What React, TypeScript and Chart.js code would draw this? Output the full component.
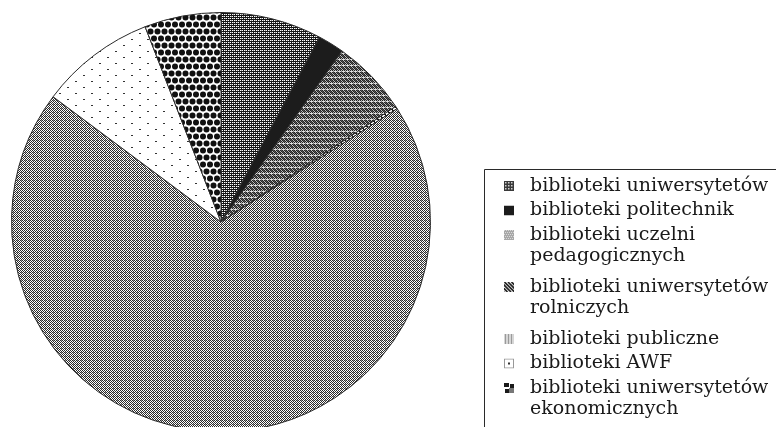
import React, { useEffect, useRef } from "react";
import { Chart, registerables } from "chart.js";

Chart.register(...registerables);

const categories = [
  "biblioteki uniwersytetów",
  "biblioteki politechnik",
  "biblioteki uczelni pedagogicznych",
  "biblioteki uniwersytetów rolniczych",
  "biblioteki publiczne",
  "biblioteki AWF",
  "biblioteki uniwersytetów ekonomicznych",
];

const shares = [7.8, 2.0, 5.9, 0.2, 69.3, 8.9, 5.9];

const legendLines = [
  ["biblioteki uniwersytetów"],
  ["biblioteki politechnik"],
  ["biblioteki uczelni", "pedagogicznych"],
  ["biblioteki uniwersytetów", "rolniczych"],
  ["biblioteki publiczne"],
  ["biblioteki AWF"],
  ["biblioteki uniwersytetów", "ekonomicznych"],
];

type Draw = (c: CanvasRenderingContext2D, w: number, h: number) => void;

function makePattern(ctx: CanvasRenderingContext2D, w: number, h: number, draw: Draw): CanvasPattern | string {
  const off = document.createElement("canvas");
  off.width = w;
  off.height = h;
  const c = off.getContext("2d");
  if (!c) return "#888";
  draw(c, w, h);
  return ctx.createPattern(off, "repeat") || "#888";
}

function px(c: CanvasRenderingContext2D, color: string, pts: number[][]) {
  c.fillStyle = color;
  pts.forEach(([x, y]) => c.fillRect(x, y, 1, 1));
}

function buildSlicePatterns(ctx: CanvasRenderingContext2D) {
  const p1 = makePattern(ctx, 4, 4, (c) => {
    c.fillStyle = "#fff";
    c.fillRect(0, 0, 4, 4);
    c.fillStyle = "#151515";
    c.fillRect(0, 1, 4, 1);
    c.fillRect(0, 3, 4, 1);
    px(c, "#151515", [[1, 0], [3, 2]]);
    px(c, "#888", [[3, 0], [1, 2]]);
  });
  const p2 = "#1c1c1c";
  const p3 = makePattern(ctx, 4, 6, (c) => {
    c.fillStyle = "#bdbdbd";
    c.fillRect(0, 0, 4, 6);
    for (let y = 0; y < 5; y++) {
      px(c, "#222", [[y % 2, y], [(y % 2) + 2, y]]);
    }
    px(c, "#555", [[1, 0], [3, 2], [0, 3], [2, 1]]);
    c.fillStyle = "#e0e0e0";
    c.fillRect(0, 5, 4, 1);
    px(c, "#777", [[1, 5]]);
  });
  const p4 = makePattern(ctx, 6, 6, (c) => {
    c.fillStyle = "#fff";
    c.fillRect(0, 0, 6, 6);
    for (let i = 0; i < 6; i++) {
      px(c, "#111", [[i, i], [(i + 1) % 6, i]]);
    }
  });
  const p5 = makePattern(ctx, 4, 4, (c) => {
    c.fillStyle = "#fff";
    c.fillRect(0, 0, 4, 4);
    px(c, "#2a2a2a", [[0, 0], [2, 0], [1, 1], [3, 1], [0, 2], [2, 2], [1, 3], [3, 3]]);
    px(c, "#9a9a9a", [[1, 0]]);
  });
  const p6 = makePattern(ctx, 16, 12, (c) => {
    c.fillStyle = "#fff";
    c.fillRect(0, 0, 16, 12);
    c.fillStyle = "#333";
    c.fillRect(3, 3, 2, 1);
    c.fillRect(11, 9, 2, 1);
  });
  const p7 = makePattern(ctx, 14, 14, (c) => {
    c.fillStyle = "#fff";
    c.fillRect(0, 0, 14, 14);
    c.fillStyle = "#111";
    const centers = [[3.5, 3.5], [10.5, 3.5], [0, 10.5], [7, 10.5], [14, 10.5]];
    centers.forEach(([x, y]) => {
      c.beginPath();
      c.arc(x, y, 3, 0, Math.PI * 2);
      c.fill();
    });
  });
  return [p1, p2, p3, p4, p5, p6, p7];
}

function drawSwatch(c: CanvasRenderingContext2D, i: number, x: number, y: number, s: number) {
  c.save();
  c.beginPath();
  c.rect(x, y, s, s);
  c.clip();
  if (i === 0) {
    c.fillStyle = "#3a3a3a";
    c.fillRect(x, y, s, s);
    c.fillStyle = "#d0d0d0";
    for (let yy = 1; yy < s; yy += 3) for (let xx = 1; xx < s; xx += 3) c.fillRect(x + xx, y + yy, 1.5, 1.5);
  } else if (i === 1) {
    c.fillStyle = "#1c1c1c";
    c.fillRect(x, y, s, s);
  } else if (i === 2) {
    c.fillStyle = "#a8a8a8";
    c.fillRect(x, y, s, s);
    c.fillStyle = "#d8d8d8";
    for (let yy = 0; yy < s; yy += 2) for (let xx = (yy / 2) % 2; xx < s; xx += 2) c.fillRect(x + xx, y + yy, 1, 1);
  } else if (i === 3) {
    c.fillStyle = "#eee";
    c.fillRect(x, y, s, s);
    c.strokeStyle = "#222";
    c.lineWidth = 1.6;
    for (let k = -s; k < 2 * s; k += 3.5) {
      c.beginPath();
      c.moveTo(x + k, y);
      c.lineTo(x + k + s, y + s);
      c.stroke();
    }
  } else if (i === 4) {
    c.fillStyle = "#d6d6d6";
    c.fillRect(x, y, s, s);
    c.fillStyle = "#9a9a9a";
    for (let xx = 1; xx < s; xx += 3) c.fillRect(x + xx, y, 1, s);
  } else if (i === 5) {
    c.fillStyle = "#fff";
    c.fillRect(x, y, s, s);
    c.strokeStyle = "#999";
    c.lineWidth = 1;
    c.strokeRect(x + 0.5, y + 0.5, s - 1, s - 1);
    c.fillStyle = "#333";
    c.fillRect(x + s / 2 - 1, y + s / 2 - 1, 2, 2);
  } else {
    c.fillStyle = "#fff";
    c.fillRect(x, y, s, s);
    c.fillStyle = "#1a1a1a";
    c.fillRect(x, y, s / 2, s / 2 - 1);
    c.fillRect(x + s / 2 + 1, y + 1, s / 2 - 1, s / 2);
    c.fillRect(x + 1, y + s / 2 + 1, s / 2 - 1, s / 2 - 1);
    c.fillStyle = "#777";
    c.fillRect(x + s / 2, y + s / 2, s / 2, s / 2);
  }
  c.restore();
}

const legendPlugin = {
  id: "patternLegend",
  afterDraw(chart: Chart) {
    const c = chart.ctx;
    c.save();
    c.strokeStyle = "#2a2a2a";
    c.lineWidth = 1;
    c.beginPath();
    c.moveTo(484.5, 500);
    c.lineTo(484.5, 169.5);
    c.lineTo(790, 169.5);
    c.stroke();

    c.font = '19px "DejaVu Serif"';
    c.fillStyle = "#1a1a1a";
    c.textBaseline = "middle";
    c.textAlign = "left";
    const lineH = 21.5;
    let y = 186;
    legendLines.forEach((lines, i) => {
      drawSwatch(c, i, 504, y - 5, 10);
      lines.forEach((t, k) => c.fillText(t, 530, y + k * lineH));
      y += lines.length === 1 ? 24.5 : 52;
    });
    c.restore();
  },
};

export default function App() {
  const ref = useRef<HTMLCanvasElement | null>(null);
  useEffect(() => {
    const canvas = ref.current;
    if (!canvas) return;
    const ctx = canvas.getContext("2d");
    if (!ctx) return;
    const patterns = buildSlicePatterns(ctx);
    const chart = new Chart(canvas, {
      type: "pie",
      data: {
        labels: categories,
        datasets: [
          {
            data: shares,
            backgroundColor: patterns as any,
            borderColor: "#2a2a2a",
            borderWidth: 1,
          },
        ],
      },
      options: {
        responsive: false,
        animation: false,
        layout: { padding: { left: 11, right: 345, top: 12, bottom: 8 } },
        plugins: {
          legend: { display: false },
          tooltip: { enabled: false },
        },
      },
      plugins: [legendPlugin],
    });
    return () => chart.destroy();
  }, []);
  return (
    <div style={{ position: "absolute", left: 0, top: 0, width: 776, height: 427, overflow: "hidden", background: "#fff" }}>
      <canvas ref={ref} width={776} height={440} style={{ display: "block", width: 776, height: 440 }} />
    </div>
  );
}
